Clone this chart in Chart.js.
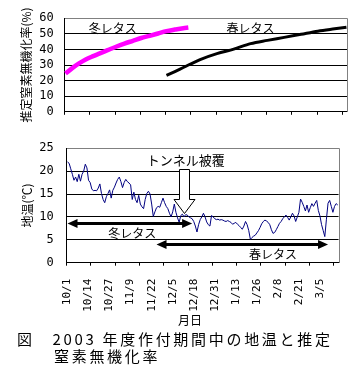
<!DOCTYPE html>
<html>
<head>
<meta charset="utf-8">
<script src="https://cdn.jsdelivr.net/npm/chart.js@4.4.0/dist/chart.umd.min.js"></script>
<style>
  body { margin: 0; background: #fff; width: 364px; height: 375px; position: relative; overflow: hidden; font-family: "Noto Sans CJK JP", sans-serif; }
  canvas { position: absolute; left: 0; }
  #topChart { top: 0; }
  #bottomChart { top: 128px; }
  .txt { position: absolute; white-space: nowrap; color: #000; }
  #xTitle { left: 178px; top: 313px; font-size: 12px; line-height: 14px; }
  #cap1 { left: 17px; top: 330px; font-size: 15px; line-height: 17px; letter-spacing: 2.7px; }
  #cap2 { left: 54px; top: 347px; font-size: 15px; line-height: 17px; letter-spacing: 2.7px; }
</style>
</head>
<body>
<canvas id="topChart" width="364" height="130" style="width:364px;height:130px"></canvas>
<canvas id="bottomChart" width="364" height="185" style="width:364px;height:185px"></canvas>
<div class="txt" id="xTitle">月日</div>
<div class="txt" id="cap1">図　2003 年度作付期間中の地温と推定</div>
<div class="txt" id="cap2">窒素無機化率</div>
<script>
// one category per day, 2003/10/1 .. 2004/3/16
const days = [];
for (let d = new Date(2003, 9, 1); days.length < 168; d.setDate(d.getDate() + 1)) {
  days.push((d.getMonth() + 1) + '/' + d.getDate());
}

// estimated nitrogen mineralization rate (%)
const winterDays = ['10/1','10/5','10/9','10/13','10/17','10/21','10/26','10/31','11/5','11/10','11/15','11/20','11/25','11/30','12/5','12/10','12/13'];
const winterN = [24.5, 28, 31, 33.5, 35.5, 37.3, 39.5, 41.7, 43.7, 45.5, 47.3, 48.7, 50.2, 51.7, 52.7, 53.6, 54.0];
const springDays = ['11/30','12/5','12/10','12/20','12/30','1/9','1/19','1/29','2/8','2/18','2/28','3/9','3/16'];
const springN = [23.3, 25.8, 28.4, 33.5, 37.3, 40.2, 43.7, 45.8, 47.7, 49.7, 51.7, 53.2, 54.2];

// soil temperature (℃), daily
const soilTemp = [
  22.0, 21.7, 20.5, 19.3, 18.0, 18.7, 17.7, 19.3, 17.8, 19.3,
  20.0, 21.5, 20.7, 18.0, 17.5, 16.1, 15.7, 15.8, 15.7, 16.3,
  17.2, 15.1, 13.8, 13.1, 14.4, 15.1, 15.9, 14.1, 15.8, 16.5,
  17.4, 18.2, 18.7, 17.7, 16.4, 17.5, 18.2, 17.7, 17.4, 17.0,
  13.8, 15.4, 13.8, 13.1, 14.7, 12.8, 12.2, 11.8, 13.8, 15.1,
  15.6, 15.0, 12.8, 10.1, 11.1, 12.0, 12.3, 12.1, 13.1, 14.1,
  13.1, 12.3, 11.8, 10.8, 10.0, 11.1, 12.8, 11.0, 9.8, 8.8,
  10.3, 10.6, 10.0, 10.5, 10.4, 10.0, 9.8, 9.6, 9.0, 8.0,
  6.7, 8.3, 9.4, 10.0, 10.8, 10.0, 8.9, 8.3, 8.0, 10.3,
  10.0, 9.6, 9.4, 9.5, 9.3, 9.4, 9.3, 9.1, 9.0, 9.2,
  9.0, 8.8, 8.4, 8.6, 8.8, 8.4, 8.1, 7.7, 7.3, 8.0,
  9.0, 8.3, 7.0, 5.1, 5.5, 5.8, 6.0, 6.5, 7.0, 7.7,
  8.5, 9.0, 9.3, 9.1, 8.8, 8.3, 7.2, 6.4, 6.6, 7.2,
  7.9, 8.6, 9.0, 9.6, 10.0, 10.4, 9.9, 9.3, 10.0, 10.8,
  10.2, 9.0, 10.0, 11.0, 13.9, 13.2, 12.3, 11.3, 12.6, 11.0,
  12.0, 12.9, 12.3, 13.0, 13.6, 11.4, 10.2, 8.3, 7.0, 5.7,
  9.5, 13.0, 13.6, 12.3, 11.0, 12.3, 12.9, 12.6
];

const tickFont = { family: '"DejaVu Sans Mono", monospace', size: 12 };
const jpFont = '"Noto Sans CJK JP", sans-serif';
const clear = 'rgba(0,0,0,0)';

// gray top and right edges of the plot area
const frame = {
  id: 'frame',
  afterDraw(chart) {
    const { ctx, chartArea: a } = chart;
    ctx.save();
    ctx.strokeStyle = '#808080';
    ctx.lineWidth = 1;
    ctx.beginPath();
    ctx.moveTo(Math.round(a.left), Math.round(a.top) + 0.5);
    ctx.lineTo(Math.round(a.right) + 0.5, Math.round(a.top) + 0.5);
    ctx.lineTo(Math.round(a.right) + 0.5, Math.round(a.bottom));
    ctx.stroke();
    ctx.restore();
  }
};

function label(chart, text, day, val, size) {
  const ctx = chart.ctx;
  ctx.save();
  ctx.font = size + 'px ' + jpFont;
  ctx.fillStyle = '#000';
  ctx.textAlign = 'center';
  ctx.textBaseline = 'middle';
  ctx.fillText(text, chart.scales.x.getPixelForValue(days.indexOf(day)), chart.scales.y.getPixelForValue(val));
  ctx.restore();
}

function period(chart, from, to, val) {
  const ctx = chart.ctx;
  const x1 = chart.scales.x.getPixelForValue(days.indexOf(from));
  const x2 = chart.scales.x.getPixelForValue(days.indexOf(to));
  const yy = Math.round(chart.scales.y.getPixelForValue(val)) + 0.5;
  ctx.save();
  ctx.strokeStyle = '#000';
  ctx.fillStyle = '#000';
  ctx.lineWidth = 3;
  ctx.beginPath();
  ctx.moveTo(x1 + 8, yy);
  ctx.lineTo(x2 - 8, yy);
  ctx.stroke();
  ctx.beginPath();
  ctx.moveTo(x1, yy); ctx.lineTo(x1 + 10, yy - 4.5); ctx.lineTo(x1 + 10, yy + 4.5); ctx.closePath();
  ctx.moveTo(x2, yy); ctx.lineTo(x2 - 10, yy - 4.5); ctx.lineTo(x2 - 10, yy + 4.5); ctx.closePath();
  ctx.fill();
  ctx.restore();
}

function hollowArrow(chart, day, top, neck, tip) {
  const ctx = chart.ctx;
  const c = Math.round(chart.scales.x.getPixelForValue(days.indexOf(day))) + 0.5;
  const y = chart.scales.y;
  const t = Math.round(y.getPixelForValue(top)) + 0.5;
  const n = Math.round(y.getPixelForValue(neck)) + 0.5;
  const p = Math.round(y.getPixelForValue(tip)) + 0.5;
  ctx.save();
  ctx.beginPath();
  ctx.moveTo(c - 5, t); ctx.lineTo(c + 5, t); ctx.lineTo(c + 5, n); ctx.lineTo(c + 10.5, n);
  ctx.lineTo(c, p); ctx.lineTo(c - 10.5, n); ctx.lineTo(c - 5, n); ctx.closePath();
  ctx.fillStyle = '#fff';
  ctx.fill();
  ctx.strokeStyle = '#000';
  ctx.lineWidth = 1;
  ctx.stroke();
  ctx.restore();
}

const topNotes = {
  id: 'topNotes',
  afterDatasetsDraw(chart) {
    label(chart, '冬レタス', '10/29', 53.4, 12);
    label(chart, '春レタス', '1/19', 53.4, 12);
  }
};

const bottomNotes = {
  id: 'bottomNotes',
  afterDatasetsDraw(chart) {
    label(chart, 'トンネル被覆', '12/13', 22.4, 13);
    hollowArrow(chart, '12/12', 20.4, 13.8, 10.9);
    period(chart, '10/1', '12/17', 8.6);
    label(chart, '冬レタス', '11/10', 6.3, 12);
    period(chart, '11/25', '3/10', 4.1);
    label(chart, '春レタス', '2/5', 1.9, 12);
  }
};

function xAxis(showLabels, height) {
  return {
    type: 'category',
    offset: true,
    afterFit: s => { s.height = height; },
    grid: {
      offset: true,
      drawOnChartArea: false,
      drawTicks: true,
      tickLength: 3,
      tickColor: c => c.index % 15 === 0 ? '#000' : clear
    },
    border: { color: '#000', width: 1 },
    ticks: {
      display: showLabels,
      autoSkip: false,
      minRotation: 90,
      maxRotation: 90,
      padding: 13,
      color: '#000',
      font: { family: '"DejaVu Sans Mono", monospace', size: 11 },
      callback: function (v, i) { return i % 13 === 0 ? this.getLabelForValue(v) : ''; }
    }
  };
}

function yAxis(max, step, width, pad, title, titlePad) {
  return {
    min: 0,
    max: max,
    afterFit: s => { s.width = width; },
    grid: { drawTicks: false, color: c => c.tick.value === max ? clear : '#000' },
    border: { color: '#000', width: 1 },
    ticks: { stepSize: step, padding: pad, color: '#000', font: tickFont },
    title: { display: true, text: title, color: '#000', font: { family: jpFont, size: 12 }, padding: { top: titlePad } }
  };
}

const common = {
  responsive: false,
  animation: false,
  plugins: { legend: { display: false }, tooltip: { enabled: false } },
  elements: { point: { radius: 0 } }
};

new Chart(document.getElementById('topChart'), {
  type: 'line',
  data: {
    labels: days,
    datasets: [
      {
        data: winterDays.map((d, i) => ({ x: d, y: winterN[i] })),
        borderColor: '#ff00ff',
        borderWidth: 4.5,
        cubicInterpolationMode: 'monotone'
      },
      {
        data: springDays.map((d, i) => ({ x: d, y: springN[i] })),
        borderColor: '#000',
        borderWidth: 3,
        cubicInterpolationMode: 'monotone'
      }
    ]
  },
  options: {
    ...common,
    layout: { padding: { top: 8, right: 16.7, left: 0, bottom: 0 } },
    scales: {
      x: xAxis(false, 8),
      y: yAxis(60, 10, 64.7, 11, '推定窒素無機化率(%)', 19)
    }
  },
  plugins: [frame, topNotes]
});

new Chart(document.getElementById('bottomChart'), {
  type: 'line',
  data: {
    labels: days,
    datasets: [
      {
        data: soilTemp,
        borderColor: '#000080',
        borderWidth: 1,
        tension: 0
      }
    ]
  },
  options: {
    ...common,
    layout: { padding: { top: 6.7, right: 14.7, left: 0, bottom: 0 } },
    scales: {
      x: xAxis(true, 50.3),
      y: yAxis(25, 5, 66.7, 13, '地温(℃)', 20)
    }
  },
  plugins: [frame, bottomNotes]
});
</script>
</body>
</html>
